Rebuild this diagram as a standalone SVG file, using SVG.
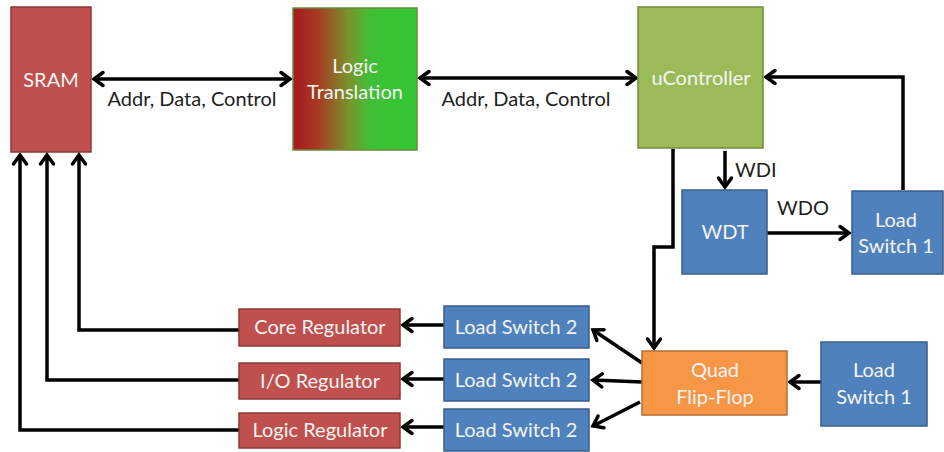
<svg xmlns="http://www.w3.org/2000/svg" width="944" height="452" viewBox="0 0 944 452">
<style>
.red{fill:#c0504d;stroke:#8c3836;stroke-width:1.5}
.blue{fill:#4f81bd;stroke:#385d8a;stroke-width:1.5}
.green{fill:#9bbb59;stroke:#71893f;stroke-width:1.5}
.orange{fill:#f79646;stroke:#b66d31;stroke-width:1.5}
.grad{fill:url(#lt);stroke:#6b8a3e;stroke-width:1.5}
text{font-family:Lato,"Open Sans","Liberation Sans",sans-serif;font-size:20px}
.w{fill:#f4f4f4;text-anchor:middle}
.lbl{fill:#1e1e1e}
.c{stroke:#000;stroke-width:3.5;fill:none}
.a{marker-end:url(#ah)}
.b{marker-start:url(#ah);marker-end:url(#ah)}
</style>
<defs>
<linearGradient id="lt" x1="0" y1="0" x2="1" y2="0">
<stop offset="0" stop-color="#a8191c"/>
<stop offset="0.2" stop-color="#a63a22"/>
<stop offset="0.45" stop-color="#7a942c"/>
<stop offset="0.62" stop-color="#3fbf36"/>
<stop offset="1" stop-color="#33c733"/>
</linearGradient>
<marker id="ah" viewBox="0 0 14 16" refX="11" refY="8" markerWidth="14" markerHeight="16" markerUnits="userSpaceOnUse" orient="auto-start-reverse" overflow="visible">
<path d="M2,1.5 L11,8 L2,14.5" fill="none" stroke="#000" stroke-width="3.5" stroke-linecap="round"/>
</marker>
</defs>
<g id="connectors">
<path class="c b" d="M94,79 H290"/>
<path class="c b" d="M420,78 H636"/>
<path class="c a" d="M903,190 V77 H766"/>
<path class="c a" d="M725,151 V187"/>
<path class="c a" d="M767,233 H849"/>
<path class="c a" d="M673,149 V247 H654 V348"/>
<path class="c a" d="M642,363 L593,330"/>
<path class="c a" d="M642,382 L593,380"/>
<path class="c a" d="M640,402 L593,426"/>
<path class="c a" d="M821,382 H790"/>
<path class="c a" d="M444,325 H403"/>
<path class="c a" d="M444,379 H403"/>
<path class="c a" d="M444,427 H403"/>
<path class="c a" d="M239,330 H79 V155"/>
<path class="c a" d="M239,380 H47 V155"/>
<path class="c a" d="M239,430 H20 V155"/>
</g>
<g id="sram"><rect class="red" x="11" y="7" width="80" height="145"/><text class="w" x="51" y="87">SRAM</text></g>
<g id="logic-translation"><rect class="grad" x="293" y="8" width="124" height="142"/><text class="w" x="355" y="73">Logic</text><text class="w" x="355" y="99">Translation</text></g>
<g id="ucontroller"><rect class="green" x="638" y="7" width="125" height="141"/><text class="w" x="701" y="85">uController</text></g>
<g id="wdt"><rect class="blue" x="682" y="190" width="85" height="84"/><text class="w" x="725" y="239">WDT</text></g>
<g id="load-switch-1-top"><rect class="blue" x="852" y="191" width="91" height="83"/><text class="w" x="896" y="227">Load</text><text class="w" x="896" y="253">Switch 1</text></g>
<g id="quad-flip-flop"><rect class="orange" x="642" y="351" width="145" height="64"/><text class="w" x="715" y="377">Quad</text><text class="w" x="715" y="404">Flip-Flop</text></g>
<g id="load-switch-1-bottom"><rect class="blue" x="821" y="342" width="106" height="84"/><text class="w" x="874" y="377">Load</text><text class="w" x="874" y="404">Switch 1</text></g>
<g id="load-switch-2-a"><rect class="blue" x="444" y="306" width="145" height="42"/><text class="w" x="516" y="334">Load Switch 2</text></g>
<g id="load-switch-2-b"><rect class="blue" x="444" y="359" width="145" height="42"/><text class="w" x="516" y="387">Load Switch 2</text></g>
<g id="load-switch-2-c"><rect class="blue" x="444" y="409" width="145" height="42"/><text class="w" x="516" y="437">Load Switch 2</text></g>
<g id="core-regulator"><rect class="red" x="239" y="309" width="161" height="37"/><text class="w" x="320" y="334">Core Regulator</text></g>
<g id="io-regulator"><rect class="red" x="239" y="363" width="161" height="36"/><text class="w" x="320" y="388">I/O Regulator</text></g>
<g id="logic-regulator"><rect class="red" x="239" y="413" width="161" height="35"/><text class="w" x="320" y="437">Logic Regulator</text></g>
<g id="labels">
<text class="lbl" x="192" y="106" text-anchor="middle">Addr, Data, Control</text>
<text class="lbl" x="526" y="106" text-anchor="middle">Addr, Data, Control</text>
<text class="lbl" x="735" y="177">WDI</text>
<text class="lbl" x="777" y="215">WDO</text>
</g>
</svg>
